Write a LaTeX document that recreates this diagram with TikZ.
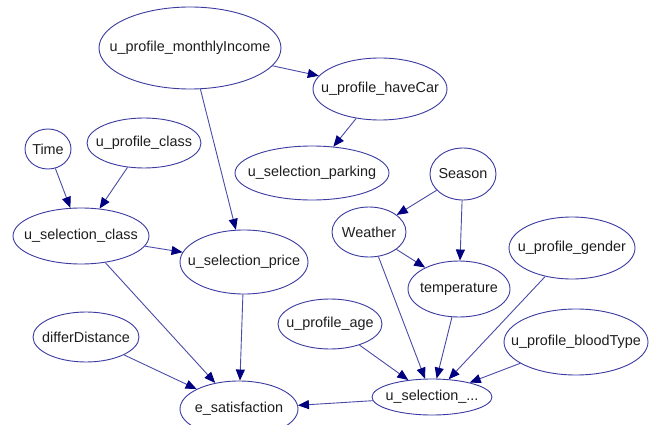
\documentclass[tikz,border=0pt]{standalone}
\usepackage{fontspec}
\setmainfont{Liberation Sans}
\usepackage{xcolor}
\usepackage{tikz}
\usetikzlibrary{arrows.meta,shapes.geometric}
\definecolor{rim}{HTML}{3A3AA0}
\definecolor{edge}{HTML}{4A4AA8}
\definecolor{tip}{HTML}{000080}
\definecolor{ink}{HTML}{1E1E1E}
\newcommand{\vname}[1]{\makebox[0pt]{#1}}
\tikzset{
  var/.style={ellipse, draw=rim, line width=0.9pt, inner sep=0pt, text=ink,
    font=\fontsize{14.4}{17}\selectfont},
  dep/.style={draw=edge, line width=0.9pt,
    -{Triangle[length=11pt,width=9pt,color=tip,fill=tip]}}
}

\begin{document}
\begin{tikzpicture}[x=1pt,y=-1pt]
  \fill[white] (0,0) rectangle (661,425);
  \useasboundingbox (0,0) rectangle (661,425);
  \clip (0,0) rectangle (661,425);

  \node[var, minimum width=182pt, minimum height=82pt] (income) at (190,48) {\vname{u\_profile\_monthlyIncome}};
  \node[var, minimum width=134pt, minimum height=62pt] (car) at (380,89) {\vname{u\_profile\_haveCar}};
  \node[var, minimum width=154pt, minimum height=54pt] (parking) at (312,173) {\vname{u\_selection\_parking}};
  \node[var, minimum width=46pt, minimum height=40pt] (time) at (48,149) {\vname{Time}};
  \node[var, minimum width=114pt, minimum height=50pt] (pclass) at (144,143) {\vname{u\_profile\_class}};
  \node[var, minimum width=66pt, minimum height=52pt] (season) at (463,174) {\vname{Season}};
  \node[var, minimum width=136pt, minimum height=56pt] (sclass) at (81,236) {\vname{u\_selection\_class}};
  \node[var, minimum width=128pt, minimum height=64pt] (price) at (244,262) {\vname{u\_selection\_price}};
  \node[var, minimum width=74pt, minimum height=50pt] (weather) at (369,232) {\vname{Weather}};
  \node[var, minimum width=102pt, minimum height=56pt] (temp) at (459,289) {\vname{temperature}};
  \node[var, minimum width=126pt, minimum height=62pt] (gender) at (572,248) {\vname{u\_profile\_gender}};
  \node[var, minimum width=106pt, minimum height=50pt] (dist) at (86,337) {\vname{differDistance}};
  \node[var, minimum width=104pt, minimum height=50pt] (age) at (330,324) {\vname{u\_profile\_age}};
  \node[var, minimum width=144pt, minimum height=66pt] (blood) at (576,342) {\vname{u\_profile\_bloodType}};
  \node[var, minimum width=118pt, minimum height=56pt] (satis) at (239,409) {\vname{e\_satisfaction}};
  \node[var, minimum width=120pt, minimum height=36pt] (sel) at (432,397) {\vname{u\_selection\_...}};

  \draw[dep] (income) -- (car);
  \draw[dep] (income) -- (price);
  \draw[dep] (car) -- (parking);
  \draw[dep] (time) -- (sclass);
  \draw[dep] (pclass) -- (sclass);
  \draw[dep] (sclass) -- (price);
  \draw[dep] (sclass) -- (satis);
  \draw[dep] (price) -- (satis);
  \draw[dep] (dist) -- (satis);
  \draw[dep] (sel) -- (satis);
  \draw[dep] (season) -- (weather);
  \draw[dep] (season) -- (temp);
  \draw[dep] (weather) -- (temp);
  \draw[dep] (weather) -- (sel);
  \draw[dep] (temp) -- (sel);
  \draw[dep] (gender) -- (sel);
  \draw[dep] (blood) -- (sel);
  \draw[dep] (age) -- (sel);
\end{tikzpicture}
\end{document}
